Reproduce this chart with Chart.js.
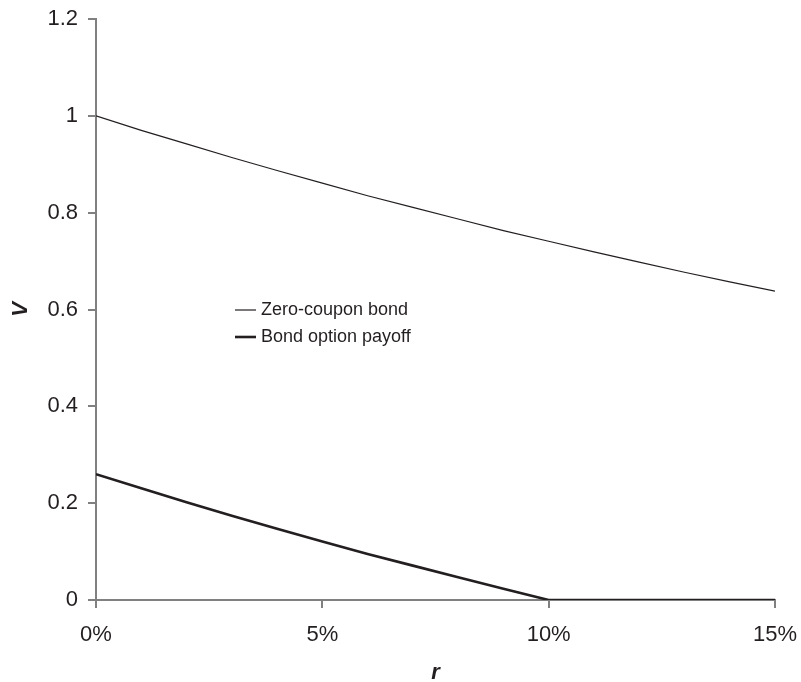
<!DOCTYPE html>
<html>
<head>
<meta charset="utf-8">
<script src="https://cdn.jsdelivr.net/npm/chart.js@4.4.1/dist/chart.umd.min.js"></script>
<style>
  html, body { margin: 0; padding: 0; background: #fff; }
  #wrap { width: 801px; height: 682px; }
</style>
</head>
<body>
<div id="wrap"><canvas id="bondChart" width="801" height="682"></canvas></div>
<script>
const rates = [0, 1, 2, 3, 4, 5, 6, 7, 8, 9, 10, 11, 12, 13, 14, 15];
const zeroCoupon = [1.000, 0.970, 0.942, 0.914, 0.887, 0.861, 0.835, 0.811, 0.787, 0.763, 0.741, 0.719, 0.698, 0.677, 0.657, 0.638];
const optionPayoff = [0.260, 0.231, 0.202, 0.174, 0.147, 0.121, 0.095, 0.071, 0.047, 0.023, 0, 0, 0, 0, 0, 0];
const seriesNames = ['Zero-coupon bond', 'Bond option payoff'];
const xTicks = [0, 5, 10, 15];

const FONT = 'Liberation Sans, Arial, Helvetica, sans-serif';
const INK = '#231f20';
const AXIS = '#808080';

const toPoints = (vals) => rates.map((r, i) => ({ x: r, y: vals[i] }));

// legend sits inside the plot, so draw it by hand
const insideLegend = {
  id: 'insideLegend',
  afterDraw(chart) {
    const ctx = chart.ctx;
    const rows = [
      { y: 310, width: 1.2 },
      { y: 337, width: 2.6 }
    ];
    ctx.save();
    ctx.font = '18px ' + FONT;
    ctx.textBaseline = 'middle';
    rows.forEach((row, i) => {
      ctx.strokeStyle = INK;
      ctx.lineWidth = row.width;
      ctx.beginPath();
      ctx.moveTo(235, row.y);
      ctx.lineTo(256, row.y);
      ctx.stroke();
      ctx.fillStyle = INK;
      ctx.fillText(seriesNames[i], 261, row.y);
    });
    ctx.restore();
  }
};

new Chart(document.getElementById('bondChart'), {
  type: 'line',
  data: {
    datasets: [
      {
        label: seriesNames[0],
        data: toPoints(zeroCoupon),
        borderColor: INK,
        borderWidth: 1.2,
        pointRadius: 0,
        tension: 0
      },
      {
        label: seriesNames[1],
        data: toPoints(optionPayoff),
        borderColor: INK,
        borderWidth: 2.6,
        pointRadius: 0,
        tension: 0
      }
    ]
  },
  options: {
    responsive: false,
    animation: false,
    layout: { padding: { top: 19, right: 26, left: 0, bottom: 0 } },
    plugins: { legend: { display: false }, tooltip: { enabled: false } },
    scales: {
      x: {
        type: 'linear',
        min: 0,
        max: 15,
        afterBuildTicks: (scale) => { scale.ticks = xTicks.map((v) => ({ value: v })); },
        afterFit: (scale) => {
          scale.height = 82;
          scale.paddingLeft = 0;
          scale.paddingRight = 0;
        },
        ticks: {
          callback: (v) => v + '%',
          font: { family: FONT, size: 22 },
          color: INK,
          padding: 14,
          maxRotation: 0
        },
        grid: { drawOnChartArea: false, drawTicks: true, tickLength: 8, color: AXIS, lineWidth: 2 },
        border: { display: true, color: AXIS, width: 2 },
        title: {
          display: true,
          text: 'r',
          font: { family: FONT, size: 22, style: 'italic', weight: 'bold', lineHeight: 0.8 },
          color: INK,
          padding: 0
        }
      },
      y: {
        min: 0,
        max: 1.2,
        afterFit: (scale) => {
          scale.width = 96;
          scale.paddingTop = 0;
          scale.paddingBottom = 0;
        },
        ticks: {
          stepSize: 0.2,
          callback: (v) => String(Math.round(v * 10) / 10),
          font: { family: FONT, size: 22 },
          color: INK,
          padding: 10
        },
        grid: { drawOnChartArea: false, drawTicks: true, tickLength: 8, color: AXIS, lineWidth: 2 },
        border: { display: true, color: AXIS, width: 2 },
        title: {
          display: true,
          text: 'V',
          font: { family: FONT, size: 22, style: 'italic', weight: 'bold', lineHeight: 1 },
          color: INK,
          padding: { top: 10, bottom: 0 }
        }
      }
    }
  },
  plugins: [insideLegend]
});
</script>
</body>
</html>
